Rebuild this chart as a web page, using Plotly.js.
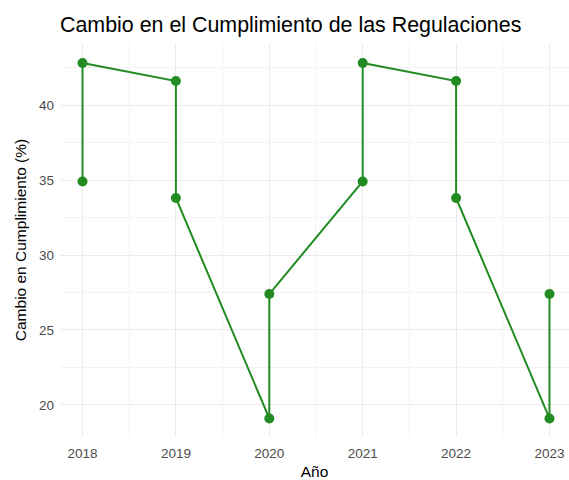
<!DOCTYPE html>
<html>
<head>
<meta charset="utf-8">
<script src="https://cdn.plot.ly/plotly-3.0.1.min.js"></script>
<style>html,body{margin:0;padding:0;background:#fff;}#chart{width:569px;height:480px;}</style>
</head>
<body>
<div id="chart"></div>
<script>
const years = [2018, 2018, 2019, 2019, 2020, 2020, 2021, 2021, 2022, 2022, 2023, 2023];
const cambio = [34.9, 42.8, 41.6, 33.8, 19.1, 27.4, 34.9, 42.8, 41.6, 33.8, 19.1, 27.4];
const xTicks = [2018, 2019, 2020, 2021, 2022, 2023];
const yTicks = [20, 25, 30, 35, 40];

const trace = {
  x: years, y: cambio, type: 'scatter', mode: 'lines+markers',
  line: {color: '#228B22', width: 2},
  marker: {color: '#228B22', size: 10},
  hoverinfo: 'x+y'
};

const layout = {
  width: 569, height: 480,
  paper_bgcolor: '#fff', plot_bgcolor: '#fff',
  margin: {l: 60, r: 0, t: 44, b: 44},
  font: {family: 'Liberation Sans, Arial, sans-serif'},
  title: {text: 'Cambio en el Cumplimiento de las Regulaciones', x: 60/569, xanchor: 'left', y: 1 - 25/480, yanchor: 'middle',
          font: {size: 21.4, color: '#000'}},
  showlegend: false,
  xaxis: {
    range: [2017.759, 2023.209], tickvals: xTicks, ticktext: xTicks.map(String),
    showgrid: true, gridcolor: '#ebebeb', gridwidth: 1,
    minor: {dtick: 0.5, tick0: 2017.5, showgrid: true, gridcolor: '#f3f3f3', gridwidth: 1},
    zeroline: false, showline: false, ticks: '',
    tickfont: {size: 13.5, color: '#4d4d4d'},
    ticklabelstandoff: 7,
    title: {text: 'Año', font: {size: 15.5, color: '#000'}, standoff: 6}
  },
  yaxis: {
    range: [17.93, 44.07], tickvals: yTicks,
    showgrid: true, gridcolor: '#ebebeb', gridwidth: 1,
    minor: {dtick: 2.5, tick0: 17.5, showgrid: true, gridcolor: '#f3f3f3', gridwidth: 1},
    zeroline: false, showline: false, ticks: '',
    tickfont: {size: 13.5, color: '#4d4d4d'},
    ticklabelstandoff: 5,
    title: {text: 'Cambio en Cumplimiento (%)', font: {size: 15.5, color: '#000'}, standoff: 8}
  }
};

Plotly.newPlot('chart', [trace], layout, {displayModeBar: false, staticPlot: true});
</script>
</body>
</html>
